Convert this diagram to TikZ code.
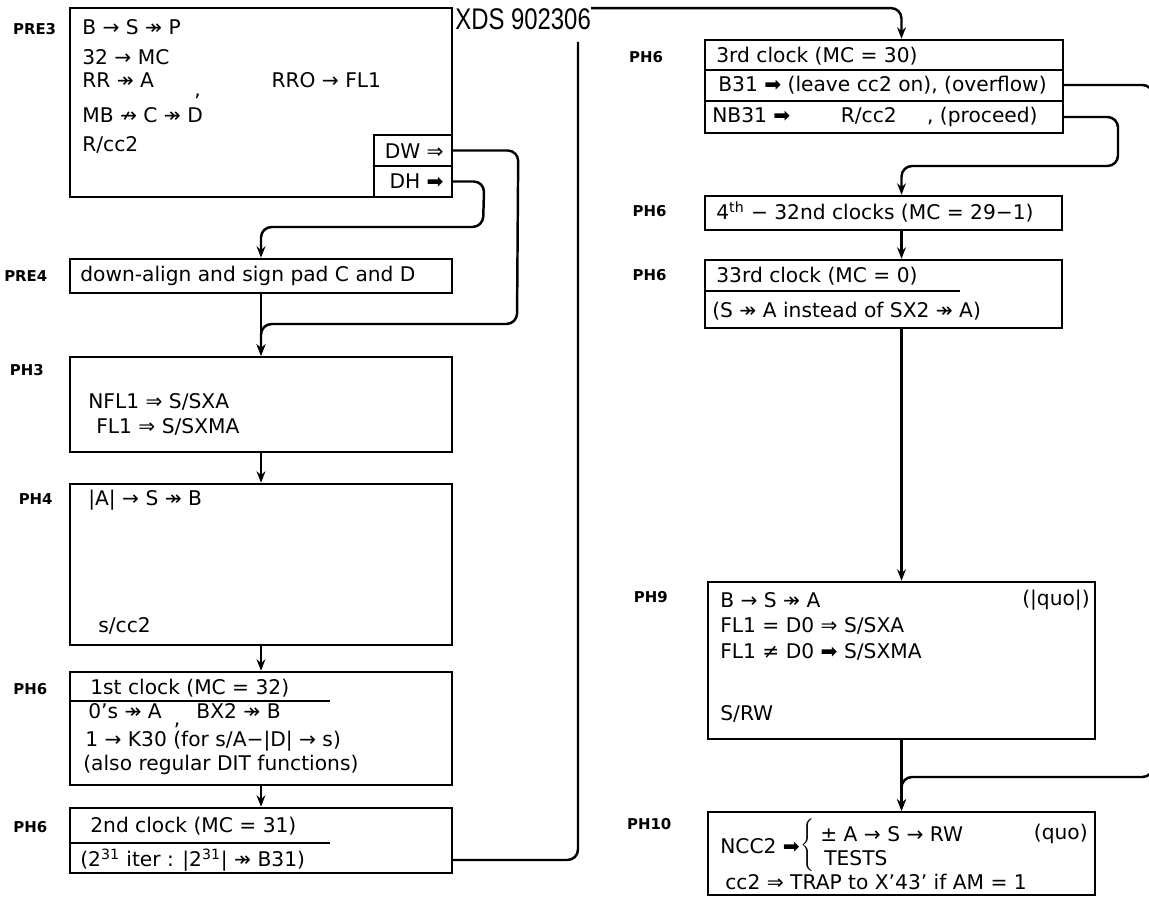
\documentclass[tikz,border=0pt]{standalone}
\usepackage{fontspec}
\setmainfont{DejaVu Sans}
\newfontfamily\titlefont[FakeStretch=0.8]{Liberation Sans}
\usetikzlibrary{positioning,fit,arrows.meta}

\begin{document}
\begin{tikzpicture}[x=0.02cm, y=-0.02cm,
    box/.style={draw, line width=1.4pt, inner sep=0pt},
    tag/.style={font=\fontsize{8.5}{10}\selectfont\bfseries, inner sep=0pt},
    txt/.style={anchor=west, inner sep=0pt, font=\fontsize{11.5}{13}\selectfont},
    conn/.style={line width=1.4pt, rounded corners=6pt},
    arr/.style={conn, -{Stealth[length=6.5pt, width=5pt]}}]
  \path[use as bounding box, clip] (0,0) rectangle (1149,901);

  \node[txt, font=\fontsize{17}{19}\titlefont] (title) at (455,19) {XDS 902306};

  \node[box, fit={(70,8) (452,197)}] (pre3) {};
  \node[box, fit={(374,135) (452,166)}] (dw) {};
  \node[box, fit={(374,166) (452,197)}] (dh) {};
  \node[tag, below left=9pt and 7pt of pre3.north west] (pre3tag) {PRE3};
  \node[txt] (pre3a) at (82,27) {B → S ↠ P};
  \node[txt] (pre3b) at (82,57) {32 → MC};
  \node[txt] (pre3c) at (82,86) {RR ↠ A\hspace{2em}\raisebox{-5pt}{,}\hspace{3.5em}RRO → FL1};
  \node[txt] (pre3d) at (82,115) {MB ↛ C ↠ D};
  \node[txt] (pre3e) at (82,145) {R/cc2};
  \node[txt, anchor=east] (dwtxt) at (444,151) {DW ⇒};
  \node[txt, anchor=east] (dhtxt) at (444,181) {DH ➡};

  \node[box, fit={(70,259) (452,293)}] (pre4) {};
  \node[tag, below left=7pt and 12pt of pre4.north west] (pre4tag) {PRE4};
  \node[txt] (pre4a) at (80,276) {down-align and sign pad C and D};

  \node[box, fit={(70,357) (452,452)}] (ph3) {};
  \node[tag, below left=5pt and 14pt of ph3.north west] (ph3tag) {PH3};
  \node[txt] (ph3a) at (88,402) {NFL1 ⇒ S/SXA};
  \node[txt] (ph3b) at (96,427) {FL1 ⇒ S/SXMA};

  \node[box, fit={(70,484) (452,645)}] (ph4) {};
  \node[tag, below left=6pt and 9pt of ph4.north west] (ph4tag) {PH4};
  \node[txt] (ph4a) at (88,500) {|A| → S ↠ B};
  \node[txt] (ph4b) at (98,626) {s/cc2};

  \node[box, fit={(70,672) (452,785)}] (ph6a) {};
  \node[tag, below left=7pt and 12pt of ph6a.north west] (ph6atag) {PH6};
  \node[txt] (ph6a1) at (90,688) {1st clock (MC = 32)};
  \draw[line width=1.4pt] (ph6a.west |- 0,701) -- (330,701);
  \node[txt] (ph6a2) at (88,716) {0's ↠ A\hspace{0.6em}\raisebox{-4pt}{,}\hspace{0.8em}BX2 ↠ B};
  \node[txt] (ph6a3) at (85,741) {1 → K30 (for s/A−|D| → s)};
  \node[txt] (ph6a4) at (83,765) {(also regular DIT functions)};

  \node[box, fit={(70,808) (452,873)}] (ph6b) {};
  \node[tag, below left=8pt and 12pt of ph6b.north west] (ph6btag) {PH6};
  \node[txt] (ph6b1) at (90,826) {2nd clock (MC = 31)};
  \draw[line width=1.4pt] (ph6b.west |- 0,843) -- (330,843);
  \node[txt] (ph6b2) at (80,860) {(2\textsuperscript{31} iter : |2\textsuperscript{31}| ↠ B31)};

  \node[box, fit={(705,40) (1063,133)}] (ph6c) {};
  \node[tag, below left=7pt and 23pt of ph6c.north west] (ph6ctag) {PH6};
  \node[txt] (ph6c1) at (716,56) {3rd clock (MC = 30)};
  \draw[line width=1.4pt] (ph6c.west |- 0,70) -- (ph6c.east |- 0,70);
  \node[txt] (ph6c2) at (718,85) {B31 ➡ (leave cc2 on), (overflow)};
  \draw[line width=1.4pt] (ph6c.west |- 0,101) -- (ph6c.east |- 0,101);
  \node[txt] (ph6c3) at (712,117) {NB31 ➡\hspace{2.5em}R/cc2\hspace{1.5em}, (proceed)};

  \node[box, fit={(705,196) (1062,230)}] (ph6d) {};
  \node[tag, below left=6pt and 21pt of ph6d.north west] (ph6dtag) {PH6};
  \node[txt] (ph6d1) at (716,212) {4\textsuperscript{th} − 32nd clocks (MC = 29−1)};

  \node[box, fit={(705,260) (1062,328)}] (ph6e) {};
  \node[tag, below left=6pt and 21pt of ph6e.north west] (ph6etag) {PH6};
  \node[txt] (ph6e1) at (716,276) {33rd clock (MC = 0)};
  \draw[line width=1.4pt] (ph6e.west |- 0,291) -- (960,291);
  \node[txt] (ph6e2) at (712,311) {(S ↠ A instead of SX2 ↠ A)};

  \node[box, fit={(708,582) (1095,739)}] (ph9) {};
  \node[tag, below left=6pt and 22pt of ph9.north west] (ph9tag) {PH9};
  \node[txt] (ph9a) at (720,600) {B → S ↠ A};
  \node[txt, anchor=east] (ph9q) at (1090,600) {(|quo|)};
  \node[txt] (ph9b) at (720,626) {FL1 = D0 ⇒ S/SXA};
  \node[txt] (ph9c) at (720,652) {FL1 ≠ D0 ➡ S/SXMA};
  \node[txt] (ph9d) at (720,714) {S/RW};

  \node[box, fit={(708,812) (1095,895)}] (ph10) {};
  \node[tag, below left=4pt and 20pt of ph10.north west] (ph10tag) {PH10};
  \node[txt] (ph10a) at (720,846) {NCC2 ➡};
  \node[txt] (ph10br) at (800,846) {$\left\{\vrule height 13pt depth 13pt width 0pt\right.$};
  \node[txt] (ph10b) at (820,834) {± A → S → RW};
  \node[txt, anchor=east] (ph10q) at (1088,834) {(quo)};
  \node[txt] (ph10c) at (824,858) {TESTS};
  \node[txt] (ph10d) at (725,882) {cc2 ⇒ TRAP to X'43' if AM = 1};

  \coordinate (gap) at (578,42);

  \draw[arr] (dh.east) -- ++(31,0) -- (483,227) -- (pre4.north |- 0,227) -- (pre4.north);
  \draw[arr] (dw.east) -- ++(65,0) -- (517,324) -- (ph3.north |- 0,324) -- (ph3.north);
  \draw[arr] (pre4.south) -- (ph3.north);
  \draw[arr] (ph3.south) -- (ph4.north);
  \draw[arr] (ph4.south) -- (ph6a.north);
  \draw[arr] (ph6a.south) -- (ph6b.north);
  \draw[conn] (ph6b.east |- ph6b2) -- (gap |- ph6b2) -- (gap);
  \draw[arr] (title.north east) -- (ph9 |- title.north east) -- (ph6c.north -| ph9);
  \draw[arr] (ph6c.east |- ph6c3) -- (1118,117) -- (1118,166) -- (ph9 |- 0,166) -- (ph6d.north -| ph9);
  \draw[arr] (ph6c.east |- ph6c2) -- (1153,85) -- (1153,777) -- (ph9 |- 0,777) -- (ph10.north);
  \draw[arr] (ph6d.south -| ph9) -- (ph6e.north -| ph9);
  \draw[arr] (ph6e.south -| ph9) -- (ph9.north);
  \draw[arr] (ph9.south) -- (ph10.north);
\end{tikzpicture}
\end{document}
